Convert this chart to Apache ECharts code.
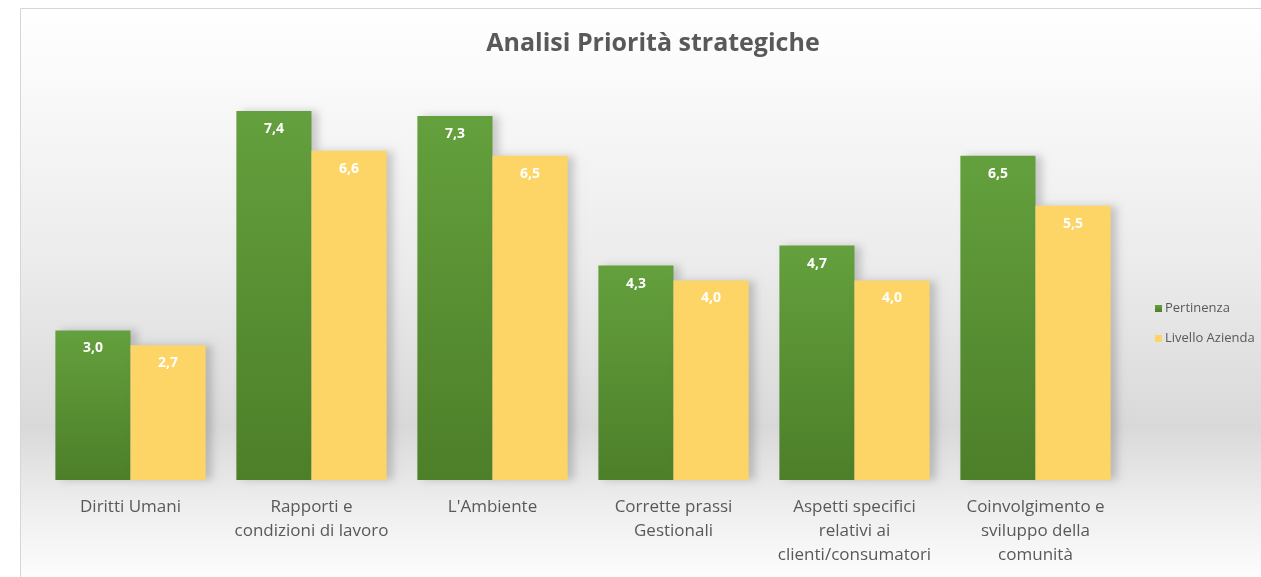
<!DOCTYPE html>
<html>
<head>
<meta charset="utf-8">
<script src="https://cdn.jsdelivr.net/npm/echarts@6/dist/echarts.min.js"></script>
<style>
  html, body { margin: 0; padding: 0; background: #fff; }
  #chart { width: 1261px; height: 577px; }
</style>
</head>
<body>
<div id="chart"></div>
<script>
  // dati del grafico
  const categories = [
    'Diritti Umani',
    'Rapporti e\ncondizioni di lavoro',
    "L'Ambiente",
    'Corrette prassi\nGestionali',
    'Aspetti specifici\nrelativi ai\nclienti/consumatori',
    'Coinvolgimento e\nsviluppo della\ncomunità'
  ];
  const pertinenza = [3.0, 7.4, 7.3, 4.3, 4.7, 6.5];
  const livelloAzienda = [2.7, 6.6, 6.5, 4.0, 4.0, 5.5];

  const font = '"Open Sans", "Noto Sans", sans-serif';
  let eChart = echarts.init(document.getElementById('chart'));

  const valueLabel = {
    show: true,
    position: 'insideTop',
    distance: 11,
    color: '#fff',
    fontFamily: font,
    fontWeight: 'bold',
    fontSize: 14,
    formatter: p => p.value.toFixed(1).replace('.', ',')
  };

  eChart.setOption({
    animation: false,
    graphic: [{
      type: 'rect',
      z: -10,
      shape: { x: 20.5, y: 8.5, width: 1260, height: 580 },
      style: {
        stroke: '#d6d6d6',
        lineWidth: 1,
        fill: {
          type: 'linear', x: 0, y: 0, x2: 0, y2: 1,
          colorStops: [
            { offset: 0, color: '#ffffff' },
            { offset: 0.12, color: '#fafafa' },
            { offset: 0.45, color: '#ebebeb' },
            { offset: 0.72, color: '#d9d9d9' },
            { offset: 0.85, color: '#ededed' },
            { offset: 1, color: '#ffffff' }
          ]
        }
      }
    }],
    title: {
      text: 'Analisi Priorità strategiche',
      left: 648,
      textAlign: 'center',
      top: 26,
      textStyle: {
        fontFamily: font,
        fontWeight: 'bold',
        fontSize: 25,
        color: '#595959'
      }
    },
    legend: {
      orient: 'vertical',
      left: 1150,
      top: 297,
      itemWidth: 7,
      itemHeight: 7,
      itemGap: 17,
      icon: 'rect',
      textStyle: { fontFamily: font, fontSize: 13, color: '#595959', padding: [0, 0, 0, -2] },
      data: ['Pertinenza', 'Livello Azienda']
    },
    grid: { left: 40, right: 135, top: 81, bottom: 97 },
    xAxis: {
      type: 'category',
      data: categories,
      axisLine: { show: false },
      axisTick: { show: false },
      axisLabel: {
        margin: 15,
        interval: 0,
        fontFamily: font,
        fontSize: 17,
        lineHeight: 24,
        color: '#595959'
      }
    },
    yAxis: {
      type: 'value',
      min: 0,
      max: 8,
      show: false,
      splitLine: { show: false }
    },
    series: [
      {
        name: 'Pertinenza',
        type: 'bar',
        data: pertinenza,
        barGap: '0%',
        barCategoryGap: '17%',
        label: valueLabel,
        itemStyle: {
          color: {
            type: 'linear', x: 0, y: 0, x2: 0, y2: 1,
            colorStops: [
              { offset: 0, color: '#64a03d' },
              { offset: 1, color: '#4d7f29' }
            ]
          },
          shadowColor: 'rgba(0,0,0,0.18)',
          shadowBlur: 8,
          shadowOffsetX: 6
        }
      },
      {
        name: 'Livello Azienda',
        type: 'bar',
        data: livelloAzienda,
        label: valueLabel,
        itemStyle: {
          color: '#fdd567',
          shadowColor: 'rgba(0,0,0,0.18)',
          shadowBlur: 8,
          shadowOffsetX: 6
        }
      }
    ]
  });
</script>
</body>
</html>
